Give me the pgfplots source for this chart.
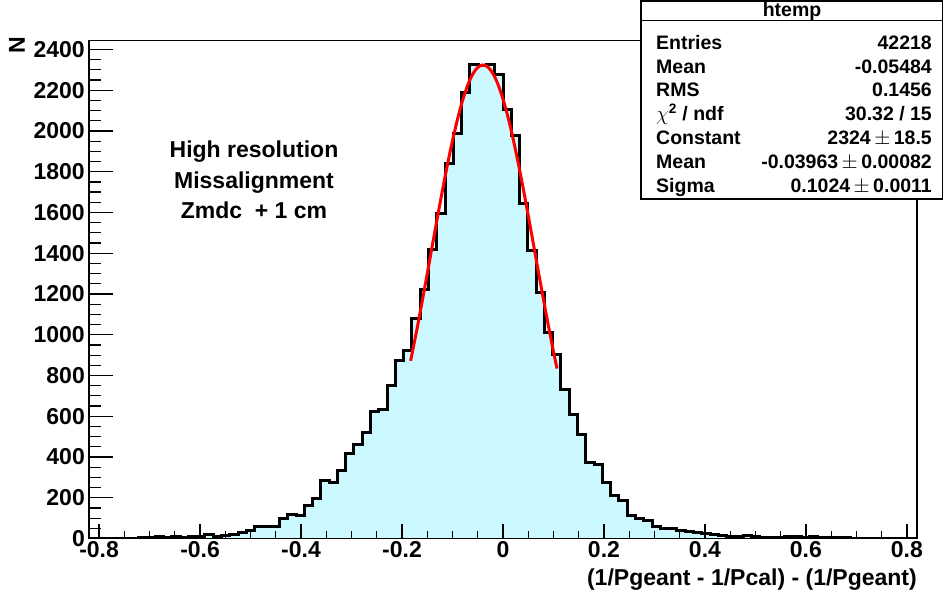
\documentclass[border=0pt]{standalone}
\usepackage{pgfplots}
\usepackage{pgfplotstable}
\pgfplotsset{compat=1.18}
\usepackage{fontspec}
\setmainfont{Liberation Sans}
\definecolor{histfill}{RGB}{204,248,255}
\pgfplotstableread{
x y
-0.8200 0
-0.8036 0
-0.7872 0
-0.7708 0
-0.7544 0
-0.7380 1
-0.7216 3
-0.7052 7
-0.6888 9
-0.6724 7
-0.6560 10
-0.6396 7
-0.6232 8
-0.6068 11
-0.5904 19
-0.5740 12
-0.5576 17
-0.5412 21
-0.5248 30
-0.5084 38
-0.4920 60
-0.4756 61
-0.4592 58
-0.4428 97
-0.4264 118
-0.4100 115
-0.3936 162
-0.3772 196
-0.3608 286
-0.3444 275
-0.3280 335
-0.3116 416
-0.2952 459
-0.2788 521
-0.2624 624
-0.2460 632
-0.2296 753
-0.2132 873
-0.1968 925
-0.1804 1079
-0.1640 1221
-0.1476 1419
-0.1312 1596
-0.1148 1841
-0.0984 1989
-0.0820 2187
-0.0656 2328
-0.0492 2319
-0.0328 2328
-0.0164 2278
0.0000 2103
0.0164 1980
0.0328 1643
0.0492 1413
0.0656 1206
0.0820 1010
0.0984 904
0.1148 729
0.1312 609
0.1476 508
0.1640 374
0.1804 361
0.1968 274
0.2132 210
0.2296 186
0.2460 111
0.2624 99
0.2788 86
0.2952 58
0.3116 50
0.3280 47
0.3444 37
0.3608 33
0.3772 30
0.3936 25
0.4100 20
0.4264 16
0.4428 12
0.4592 11
0.4756 17
0.4920 12
0.5084 7
0.5248 7
0.5412 7
0.5576 10
0.5740 10
0.5904 7
0.6068 8
0.6232 6
0.6396 5
0.6560 4
0.6724 3
0.6888 2
0.7052 1
0.7216 1
0.7380 1
0.7544 0
0.7708 0
0.7872 0
0.8036 0
0.8200 0
}\histdata
\begin{document}
\begin{tikzpicture}[x=1pt,y=1pt]
\begin{axis}[
  scale only axis, width=828pt, height=498pt,
  at={(89pt,53.5pt)}, anchor=south west,
  xmin=-0.82, xmax=0.82, ymin=0, ymax=2444,
  axis on top,
  axis line style={black, line width=1.5pt},
  tick pos=left, tick align=inside,
  xtick={-0.8,-0.6,-0.4,-0.2,0,0.2,0.4,0.6,0.8},
  xticklabels={-0.8,-0.6,-0.4,-0.2,0,0.2,0.4,0.6,0.8},
  ytick={0,200,400,600,800,1000,1200,1400,1600,1800,2000,2200,2400},
  yticklabels={0,200,400,600,800,1000,1200,1400,1600,1800,2000,2200,2400},
  scaled ticks=false,
  minor x tick num=3, minor y tick num=3,
  major tick length=24pt, minor tick length=12pt,
  xtick style={/pgfplots/major tick length=14pt,/pgfplots/minor tick length=7pt},
  tick style={black, line width=1.2pt},
  tick label style={font=\fontsize{23}{23}\selectfont\bfseries},
  xticklabel style={anchor=base, inner sep=0pt, yshift=-19.5pt},
  yticklabel style={anchor=east, inner sep=0pt, xshift=-4pt},
  xlabel={(1/Pgeant - 1/Pcal) - (1/Pgeant)},
  xlabel style={at={(rel axis cs:1,0)}, anchor=base east, inner sep=0pt, yshift=-46.5pt, font=\fontsize{23}{23}\selectfont\bfseries},
]
\addplot[const plot mark left, fill=histfill, draw=none] table[x=x,y=y] {\histdata} \closedcycle;
\addplot[const plot mark left, draw=black, line width=3pt] table[x=x,y=y] {\histdata};
\addplot[red, line width=3pt, smooth] coordinates {
(-0.183,872) (-0.17,1033) (-0.16,1165) (-0.15,1300) (-0.14,1438) (-0.13,1575)
(-0.12,1708) (-0.11,1835) (-0.10,1953) (-0.09,2059) (-0.08,2150) (-0.07,2224)
(-0.06,2279) (-0.05,2312) (-0.04,2324) (-0.03,2314) (-0.02,2282) (-0.01,2229)
(0.00,2156) (0.01,2067) (0.02,1962) (0.03,1844) (0.04,1718) (0.05,1585)
(0.06,1448) (0.07,1310) (0.08,1175) (0.09,1043) (0.10,917) (0.107,834)
};
\end{axis}
\node[rotate=90, inner sep=0pt, font=\fontsize{23}{23}\selectfont\bfseries] at (17,547) {N};
\begin{scope}[font=\fontsize{23}{23}\selectfont\bfseries]
\node[anchor=base, inner sep=0pt] at (254,434) {High resolution};
\node[anchor=base, inner sep=0pt] at (254,403) {Missalignment};
\node[anchor=base, inner sep=0pt] at (254,373) {Zmdc\ \ + 1 cm};
\end{scope}
\fill[white] (641,591) rectangle (943,393);
\draw[black, line width=1.5pt] (641,591) rectangle (943,393);
\draw[black, line width=1.2pt] (641,571.3) -- (943,571.3);
\begin{scope}[font=\fontsize{19.5}{19.5}\selectfont\bfseries]
\node[anchor=base, inner sep=0pt] at (792,575.5) {htemp};
\node[anchor=base west, inner sep=0pt] at (656,542) {Entries};
\node[anchor=base east, inner sep=0pt] at (932,542) {42218};
\node[anchor=base west, inner sep=0pt] at (656,518.5) {Mean};
\node[anchor=base east, inner sep=0pt] at (932,518.5) {-0.05484};
\node[anchor=base west, inner sep=0pt] at (656,495) {RMS};
\node[anchor=base east, inner sep=0pt] at (932,495) {0.1456};
\node[anchor=base west, inner sep=0pt] at (656,471) {$\chi$\textsuperscript{2} / ndf};
\node[anchor=base east, inner sep=0pt] at (932,471) {30.32 / 15};
\node[anchor=base west, inner sep=0pt] at (656,447) {Constant};
\node[anchor=base east, inner sep=0pt] at (932,447) {2324$\,\pm\,$18.5};
\node[anchor=base west, inner sep=0pt] at (656,423) {Mean};
\node[anchor=base east, inner sep=0pt] at (932,423) {-0.03963$\,\pm\,$0.00082};
\node[anchor=base west, inner sep=0pt] at (656,399) {Sigma};
\node[anchor=base east, inner sep=0pt] at (932,399) {0.1024$\,\pm\,$0.0011};
\end{scope}
\pgfresetboundingbox
\path (0,0) rectangle (943,592);
\end{tikzpicture}
\end{document}
